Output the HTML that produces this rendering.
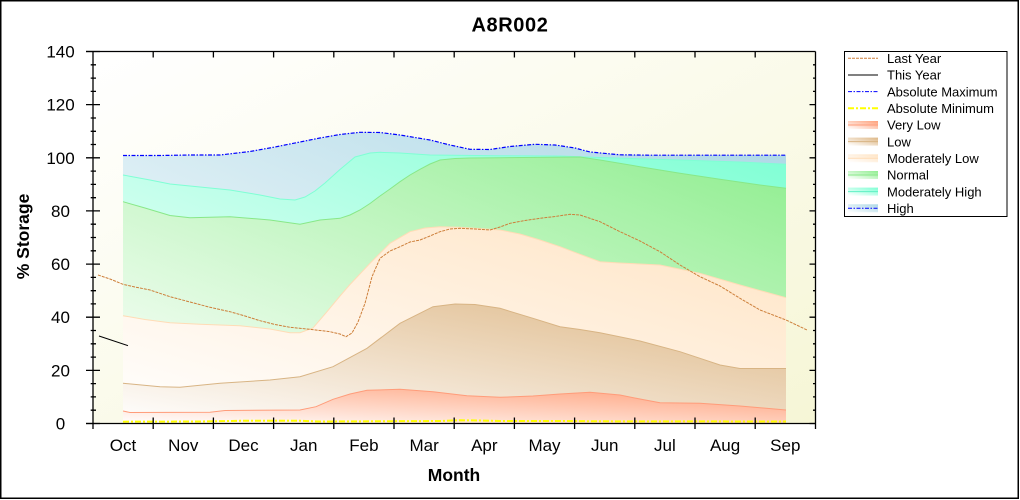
<!DOCTYPE html>
<html><head><meta charset="utf-8"><style>
html,body{margin:0;padding:0;background:#fff;}
svg{display:block;font-family:"Liberation Sans",Arial,sans-serif;}
</style></head><body>
<svg width="1020" height="500" viewBox="0 0 1020 500" xmlns="http://www.w3.org/2000/svg">
<defs>
<linearGradient id="bg" x1="0" y1="0" x2="1" y2="1"><stop offset="0" stop-color="#ffffff"/><stop offset="1" stop-color="#f6f6d6"/></linearGradient>
<linearGradient id="gH" x1="0" y1="1" x2="1" y2="0"><stop offset="0" stop-color="#ffffff"/><stop offset="1" stop-color="#add8e6"/></linearGradient>
<linearGradient id="gMH" x1="0" y1="1" x2="1" y2="0"><stop offset="0" stop-color="#ffffff"/><stop offset="1" stop-color="#7fffd4"/></linearGradient>
<linearGradient id="gN" x1="0" y1="1" x2="1" y2="0"><stop offset="0" stop-color="#ffffff"/><stop offset="1" stop-color="#90ee90"/></linearGradient>
<linearGradient id="gML" x1="0" y1="1" x2="1" y2="0"><stop offset="0" stop-color="#ffffff"/><stop offset="1" stop-color="#ffe4c4"/></linearGradient>
<linearGradient id="gL" x1="0" y1="1" x2="1" y2="0"><stop offset="0" stop-color="#ffffff"/><stop offset="1" stop-color="#deb887"/></linearGradient>
<linearGradient id="gVL" x1="0" y1="1" x2="1" y2="0"><stop offset="0" stop-color="#ffffff"/><stop offset="1" stop-color="#ffa07a"/></linearGradient>
</defs>
<rect x="0" y="0" width="1020" height="500" fill="#fff"/>
<rect x="0.75" y="0.75" width="1017.5" height="497.5" fill="none" stroke="#000" stroke-width="1.5"/>
<text x="510" y="31.7" font-size="20" font-weight="bold" text-anchor="middle" letter-spacing="0.6">A8R002</text>

<!-- plot background -->
<rect x="93" y="51.5" width="722.5" height="372" fill="url(#bg)"/>

<!-- High -->
<path fill="url(#gH)" d="M123,155.5 L160,155.5 L190,155 L220,155 L250,151.5 L275,147 L300,142 L320,138 L340,134.5 L360,132.3 L380,132.5 L400,135 L430,140 L450,145 L470,149.3 L490,149.5 L510,146.5 L535,144.3 L555,145 L575,148 L590,152 L620,154.8 L650,155.2 L786,155.2 L786,423.5 L123,423.5 Z"/>
<!-- Moderately High -->
<path fill="url(#gMH)" d="M123,175 L150,180 L170,184 L200,187 L230,190 L260,195 L280,199 L295,200 L305,197 L315,191 L325,183 L340,169.5 L355,157 L370,153 L380,152.3 L400,153 L430,155 L500,155.7 L560,156 L600,157.5 L680,160 L740,162 L786,164.3 L786,423.5 L123,423.5 Z"/>
<polyline fill="none" stroke="#7fffd4" stroke-width="1" points="123,175 150,180 170,184 200,187 230,190 260,195 280,199 295,200 305,197 315,191 325,183 340,169.5 355,157 370,153 380,152.3 400,153 430,155 500,155.7 560,156 600,157.5 680,160 740,162 786,164.3"/>
<!-- Normal -->
<path fill="url(#gN)" d="M123,201.7 L145,208 L170,215.5 L190,217.7 L230,216.7 L270,220 L300,224.3 L320,220 L340,218.3 L350,215 L360,210 L370,203.5 L380,196 L390,189 L400,181.7 L410,175 L420,169.3 L430,164 L440,160 L455,158.5 L470,158 L500,157.7 L580,157 L600,160 L640,166.7 L680,173.3 L720,179.3 L760,185 L786,188.3 L786,423.5 L123,423.5 Z"/>
<polyline fill="none" stroke="#88e888" stroke-width="1" points="123,201.7 145,208 170,215.5 190,217.7 230,216.7 270,220 300,224.3 320,220 340,218.3 350,215 360,210 370,203.5 380,196 390,189 400,181.7 410,175 420,169.3 430,164 440,160 455,158.5 470,158 500,157.7 580,157 600,160 640,166.7 680,173.3 720,179.3 760,185 786,188.3"/>
<!-- Moderately Low -->
<path fill="url(#gML)" d="M123,315.7 L145,319.5 L170,322.7 L200,324.3 L240,325.7 L270,329 L290,332.7 L300,332.7 L313,328 L327,311.7 L340,296 L350,284.5 L370,263.3 L390,243.3 L410,231.7 L425,228 L440,226.7 L460,227.3 L500,230 L520,234 L540,240 L560,246.7 L580,254.3 L600,261.7 L620,263 L660,265 L700,273.3 L740,285 L786,297.7 L786,423.5 L123,423.5 Z"/>
<polyline fill="none" stroke="#ffdcb6" stroke-width="1" points="123,315.7 145,319.5 170,322.7 200,324.3 240,325.7 270,329 290,332.7 300,332.7 313,328 327,311.7 340,296 350,284.5 370,263.3 390,243.3 410,231.7 425,228 440,226.7 460,227.3 500,230 520,234 540,240 560,246.7 580,254.3 600,261.7 620,263 660,265 700,273.3 740,285 786,297.7"/>
<!-- Low -->
<path fill="url(#gL)" d="M123,383.3 L160,386.7 L180,387.3 L220,383.3 L270,380 L300,376.7 L333,366.7 L367,348.3 L400,323.3 L433,306.7 L455,304 L475,304.5 L500,308.3 L533,318.3 L560,326.7 L580,329.5 L600,332.7 L640,341 L680,351.7 L700,358.3 L720,365 L740,368.5 L786,368.5 L786,423.5 L123,423.5 Z"/>
<polyline fill="none" stroke="#d8b484" stroke-width="1" points="123,383.3 160,386.7 180,387.3 220,383.3 270,380 300,376.7 333,366.7 367,348.3 400,323.3 433,306.7 455,304 475,304.5 500,308.3 533,318.3 560,326.7 580,329.5 600,332.7 640,341 680,351.7 700,358.3 720,365 740,368.5 786,368.5"/>
<!-- Very Low -->
<path fill="url(#gVL)" d="M123,411 L130,412.5 L210,412.3 L225,410.5 L300,410 L316,406.7 L333,399.3 L350,394 L367,390.3 L400,389.3 L433,391.7 L467,395.7 L500,397.3 L533,396 L560,394 L590,392.3 L620,395 L640,399 L660,402.7 L700,403.3 L740,406 L786,410 L786,423.5 L123,423.5 Z"/>
<polyline fill="none" stroke="#ff9c7a" stroke-width="1" points="123,411 130,412.5 210,412.3 225,410.5 300,410 316,406.7 333,399.3 350,394 367,390.3 400,389.3 433,391.7 467,395.7 500,397.3 533,396 560,394 590,392.3 620,395 640,399 660,402.7 700,403.3 740,406 786,410"/>

<!-- Absolute Max -->
<polyline fill="none" stroke="#0000ff" stroke-width="1.2" stroke-dasharray="4,1.5,1.5,1.5" points="123,155.5 160,155.5 190,155 220,155 250,151.5 275,147 300,142 320,138 340,134.5 360,132.3 380,132.5 400,135 430,140 450,145 470,149.3 490,149.5 510,146.5 535,144.3 555,145 575,148 590,152 620,154.8 650,155.2 786,155.2"/>
<!-- Absolute Min -->
<polyline fill="none" stroke="#ffff00" stroke-width="2" stroke-dasharray="6,2,2,2" points="123,421.7 200,421.5 240,420.8 300,420.8 320,421.5 440,421 460,420.3 480,420.5 500,421 560,421 600,421.3 786,421.5"/>
<!-- Last Year -->
<polyline fill="none" stroke="#cd7f3a" stroke-width="1" stroke-dasharray="3,1" points="98,275 110,279 123,284.3 135,287 150,290 170,296.7 190,302 210,307.3 230,311.7 245,316 260,320.7 275,324.5 290,327.3 310,329.3 330,331.7 340,334 346,336.7 352,333 358,322 365,303.3 372,276.7 380,258.3 390,251 400,246.7 410,242 420,240 430,236 440,231.7 450,229 460,228.3 475,229 490,230 500,227 510,223.3 525,220.5 540,218.3 555,216.5 570,214.3 580,215 600,221.7 620,231.7 640,241 660,251.7 680,265 700,276.7 720,286 740,298.3 760,310 786,320 807,330"/>
<!-- This Year -->
<polyline fill="none" stroke="#000" stroke-width="1" points="99,336 128,345.7"/>

<!-- axes -->
<g stroke="#000" stroke-width="1.3" fill="none">
<line x1="86" y1="51.5" x2="815.5" y2="51.5"/>
<line x1="86" y1="423.5" x2="815.5" y2="423.5"/>
<line x1="93" y1="51.5" x2="93" y2="429"/>
<line x1="815.5" y1="51.5" x2="815.5" y2="429"/>
<!-- y major ticks -->
<path d="M86,423.5H100M86,370.4H100M86,317.2H100M86,264.1H100M86,210.9H100M86,157.8H100M86,104.6H100M86,51.5H100"/>
<!-- y minor ticks -->
<path d="M90.7,410.2H96M90.7,396.9H96M90.7,383.6H96M90.7,357.1H96M90.7,343.8H96M90.7,330.5H96M90.7,303.9H96M90.7,290.7H96M90.7,277.4H96M90.7,250.8H96M90.7,237.5H96M90.7,224.2H96M90.7,197.7H96M90.7,184.4H96M90.7,171.1H96M90.7,144.5H96M90.7,131.3H96M90.7,118H96M90.7,91.4H96M90.7,78.1H96M90.7,64.8H96"/>
<!-- right ticks -->
<path d="M809.5,423.5H815.5M809.5,370.4H815.5M809.5,317.2H815.5M809.5,264.1H815.5M809.5,210.9H815.5M809.5,157.8H815.5M809.5,104.6H815.5"/>
<path d="M813,410.2H815.5M813,396.9H815.5M813,383.6H815.5M813,357.1H815.5M813,343.8H815.5M813,330.5H815.5M813,303.9H815.5M813,290.7H815.5M813,277.4H815.5M813,250.8H815.5M813,237.5H815.5M813,224.2H815.5M813,197.7H815.5M813,184.4H815.5M813,171.1H815.5M813,144.5H815.5M813,131.3H815.5M813,118H815.5M813,91.4H815.5M813,78.1H815.5M813,64.8H815.5"/>
<!-- x ticks bottom -->
<path d="M153.2,417.5V429M213.4,417.5V429M273.6,417.5V429M333.8,417.5V429M394,417.5V429M454.2,417.5V429M514.4,417.5V429M574.6,417.5V429M634.8,417.5V429M695,417.5V429M755.2,417.5V429"/>
<!-- x ticks top -->
<path d="M153.2,51.5V57.5M213.4,51.5V57.5M273.6,51.5V57.5M333.8,51.5V57.5M394,51.5V57.5M454.2,51.5V57.5M514.4,51.5V57.5M574.6,51.5V57.5M634.8,51.5V57.5M695,51.5V57.5M755.2,51.5V57.5"/>
</g>

<!-- y labels -->
<g font-size="17" text-anchor="middle" fill="#000">
<text x="60.5" y="429.5">0</text>
<text x="60.5" y="376.4">20</text>
<text x="60.5" y="323.2">40</text>
<text x="60.5" y="270.1">60</text>
<text x="60.5" y="216.9">80</text>
<text x="60.5" y="163.8">100</text>
<text x="60.5" y="110.6">120</text>
<text x="60.5" y="57.5">140</text>
</g>
<!-- x labels -->
<g font-size="17" text-anchor="middle" fill="#000">
<text x="123" y="451">Oct</text>
<text x="183.3" y="451">Nov</text>
<text x="243.5" y="451">Dec</text>
<text x="303.7" y="451">Jan</text>
<text x="363.9" y="451">Feb</text>
<text x="424.1" y="451">Mar</text>
<text x="484.3" y="451">Apr</text>
<text x="544.5" y="451">May</text>
<text x="604.7" y="451">Jun</text>
<text x="664.9" y="451">Jul</text>
<text x="725.1" y="451">Aug</text>
<text x="785.3" y="451">Sep</text>
</g>
<text x="454" y="481" font-size="17.5" font-weight="bold" text-anchor="middle">Month</text>
<text transform="translate(29,236.5) rotate(-90)" font-size="17.5" font-weight="bold" text-anchor="middle">% Storage</text>

<!-- legend -->
<rect x="844.5" y="51.5" width="162.5" height="165" fill="#fff" stroke="#000" stroke-width="1"/>
<g font-size="13" fill="#000">
<line x1="848" y1="58.3" x2="878" y2="58.3" stroke="#cd7f3a" stroke-dasharray="3,1"/>
<text x="887" y="63">Last Year</text>
<line x1="848" y1="75" x2="878" y2="75" stroke="#000"/>
<text x="887" y="79.6">This Year</text>
<line x1="848" y1="91.6" x2="878" y2="91.6" stroke="#0000ff" stroke-dasharray="4,1.5,1.5,1.5"/>
<text x="887" y="96.3">Absolute Maximum</text>
<line x1="848" y1="108.3" x2="878" y2="108.3" stroke="#ffff00" stroke-width="2" stroke-dasharray="6,2,2,2"/>
<text x="887" y="113">Absolute Minimum</text>
<rect x="848" y="121" width="30" height="8" fill="url(#gVL)"/><line x1="848" y1="125" x2="878" y2="125" stroke="#ff9c7a"/>
<text x="887" y="129.6">Very Low</text>
<rect x="848" y="137.6" width="30" height="8" fill="url(#gL)"/><line x1="848" y1="141.6" x2="878" y2="141.6" stroke="#d8b484"/>
<text x="887" y="146.3">Low</text>
<rect x="848" y="154.3" width="30" height="8" fill="url(#gML)"/><line x1="848" y1="158.3" x2="878" y2="158.3" stroke="#ffdcb6"/>
<text x="887" y="163">Moderately Low</text>
<rect x="848" y="171" width="30" height="8" fill="url(#gN)"/><line x1="848" y1="175" x2="878" y2="175" stroke="#88e888"/>
<text x="887" y="179.6">Normal</text>
<rect x="848" y="187.6" width="30" height="8" fill="url(#gMH)"/><line x1="848" y1="191.6" x2="878" y2="191.6" stroke="#5ff0c4"/>
<text x="887" y="196.3">Moderately High</text>
<rect x="848" y="204.3" width="30" height="8" fill="url(#gH)"/><line x1="848" y1="208.3" x2="878" y2="208.3" stroke="#0000ff" stroke-dasharray="4,1.5,1.5,1.5"/>
<text x="887" y="213">High</text>
</g>
</svg>
</body></html>
